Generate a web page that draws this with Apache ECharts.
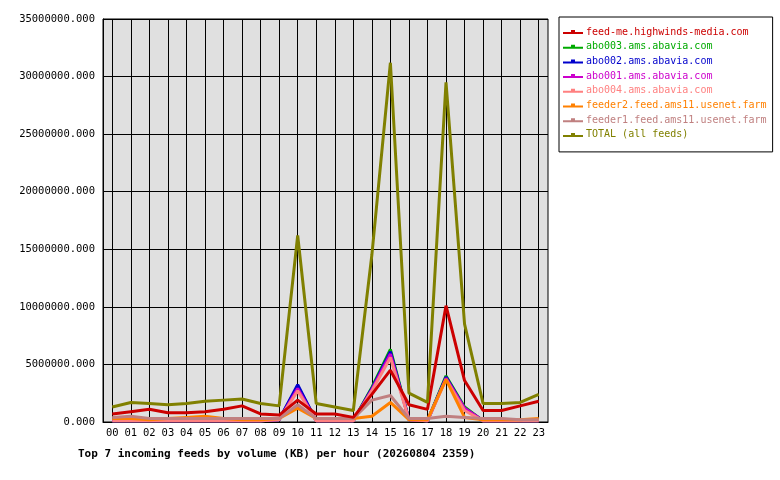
<!DOCTYPE html><html><head><meta charset="utf-8"><script src="https://cdn.jsdelivr.net/npm/echarts@6/dist/echarts.min.js"></script>
<style>body{margin:0;background:#fff}#c{width:780px;height:480px}</style></head><body><div id="c"></div><script>
const hours=['00','01','02','03','04','05','06','07','08','09','10','11','12','13','14','15','16','17','18','19','20','21','22','23'];
const names=['feed-me.highwinds-media.com','abo003.ams.abavia.com','abo002.ams.abavia.com','abo001.ams.abavia.com','abo004.ams.abavia.com','feeder2.feed.ams11.usenet.farm','feeder1.feed.ams11.usenet.farm','TOTAL (all feeds)'];
const colors=['#cc0000','#00aa00','#0000cc','#cc00cc','#ff8080','#ff8000','#c08080','#808000'];
const feedMe=[0.7,0.9,1.1,0.8,0.8,0.9,1.1,1.4,0.7,0.6,1.9,0.7,0.7,0.4,2.4,4.5,1.5,1.1,10.1,3.6,1.0,1.0,1.4,1.8];
const abo003=[0.1,0.1,0.1,0.1,0.1,0.1,0.1,0.1,0.1,0.2,3.1,0.1,0.1,0.1,3.0,6.3,0.2,0.1,4.0,1.3,0.1,0.1,0.1,0.1];
const abo002=[0.1,0.1,0.1,0.1,0.1,0.1,0.1,0.1,0.1,0.2,3.25,0.1,0.1,0.1,2.9,6.1,0.2,0.1,3.9,1.2,0.1,0.1,0.1,0.1];
const abo001=[0.1,0.1,0.1,0.1,0.1,0.1,0.1,0.1,0.1,0.2,2.9,0.1,0.1,0.1,2.8,5.9,0.2,0.1,3.8,1.2,0.1,0.1,0.1,0.1];
const abo004=[0.1,0.1,0.1,0.1,0.1,0.1,0.1,0.1,0.1,0.2,2.7,0.1,0.1,0.1,2.7,5.6,0.2,0.1,3.7,1.0,0.1,0.1,0.1,0.1];
const feeder2=[0.3,0.3,0.2,0.3,0.4,0.5,0.3,0.2,0.2,0.3,1.2,0.3,0.3,0.3,0.5,1.7,0.2,0.2,3.7,0.4,0.2,0.2,0.2,0.3];
const feeder1=[0.4,0.5,0.3,0.3,0.3,0.3,0.3,0.3,0.3,0.3,1.5,0.3,0.3,0.3,1.9,2.3,0.3,0.3,0.5,0.4,0.3,0.3,0.2,0.2];
const total=[1.3,1.7,1.6,1.5,1.6,1.8,1.9,2.0,1.6,1.4,16.2,1.6,1.3,1.0,14.5,31.2,2.5,1.7,29.5,8.5,1.6,1.6,1.7,2.4];
const values=[feedMe,abo003,abo002,abo001,abo004,feeder2,feeder1,total];
const font='DejaVu Sans Mono';
const series=values.map((v,i)=>({name:names[i],type:'line',data:v.map(x=>x*1e6),symbol:'none',
 lineStyle:{width:3,color:colors[i]},itemStyle:{color:colors[i]},z:i===7?10:(i===0?9:2+i*0.1),animation:false}));
series[7].markLine={silent:true,symbol:'none',label:{show:false},lineStyle:{color:'#000',width:1,type:'solid'},z:0,
 data:hours.map(h=>({xAxis:h}))};
const chart=echarts.init(document.getElementById('c'));
chart.setOption({animation:false,backgroundColor:'#fff',
 grid:{left:103,right:232,top:19,bottom:58,show:true,backgroundColor:'#e0e0e0',borderColor:'#000',borderWidth:1},
 xAxis:{type:'category',data:hours,boundaryGap:true,axisLine:{lineStyle:{color:'#000'}},
  axisTick:{alignWithLabel:true,length:5,lineStyle:{color:'#000'}},axisLabel:{fontFamily:font,fontSize:10.5,color:'#000',margin:6},splitLine:{show:false}},
 yAxis:{type:'value',min:0,max:35000000,interval:5000000,axisLine:{show:true,lineStyle:{color:'#000'}},axisTick:{show:false},
  axisLabel:{fontFamily:font,fontSize:10.5,color:'#000',formatter:v=>v.toFixed(3)},splitLine:{lineStyle:{color:'#000',width:1}}},
 legend:{orient:'vertical',left:559,top:17,width:214,padding:[10,6,12,4],itemGap:4.7,itemWidth:20,itemHeight:10,
  borderColor:'#000',borderWidth:1,backgroundColor:'#fff',
  icon:'path://M0,4 L20,4 L20,6 L0,6 Z M8,2 L12,2 L12,6 L8,6 Z',
  data:names.map((n,i)=>({name:n,textStyle:{color:colors[i]}})),textStyle:{fontFamily:font,fontSize:10,padding:[0,2,0,-2]}},
 title:{text:'Top 7 incoming feeds by volume (KB) per hour (20260804 2359)',left:73,top:444,
  textStyle:{fontFamily:font,fontSize:11,fontWeight:'bold',color:'#000'}},
 series:series});
</script></body></html>
